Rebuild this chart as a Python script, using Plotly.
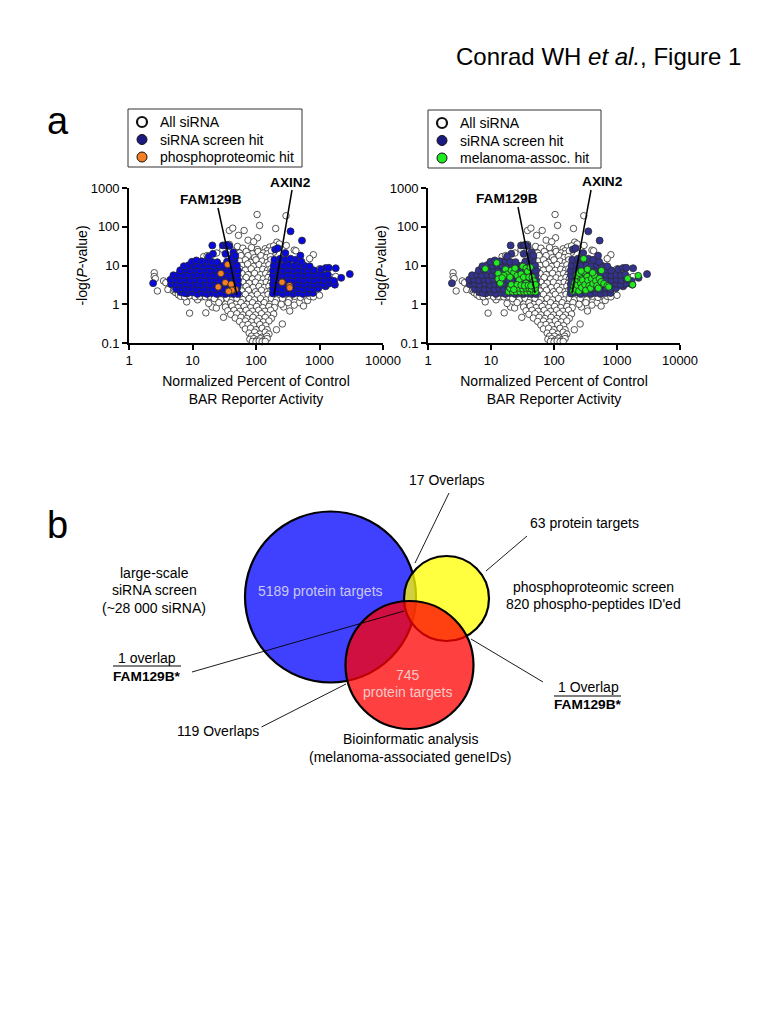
import plotly.graph_objects as go

FONT = "Liberation Sans, Arial, sans-serif"

all_sirna = [
(104,207),(297,192),(114,108),(204,90),(38,80),(43,92),(65,80),(53,60),(75,45),(106,52),(92,41),(213,40),
(2.5,6.5),(2.5,5.2),(2.8,2.2),(2.6,4.6),(3.5,4),(3.8,3.6),(4.3,2.7),(4.1,2.4),(5,2.2),(5.4,2),(5.2,2.4),(6,1.75),
(7,1.65),(8.1,1.15),(9,.59),(16.2,.6),(30.8,.46),(20.4,.85),(23.7,.8),(14,1.55),(12,1.3),(210,.22),(260,.31),(340,.67),(272,.85),
(600,1.6),(650,1.25),(480,1.1),(400,.95),(560,.9),(15,17),(17,18),(24,21),(30,26),(38,35),(46,25),(50,22),(51,31),
(190,22),(233,36),(300,33),(400,25),(425,24),(800,19),(700,15),(1000,8.2),(1300,7),(1500,5),(1800,5.2),(1200,3),(1000,2.8),(900,2),(1000,1.7),
(62,28),(85,29),(105,26),(140,27),(165,30),(190,32),(150,24),(55,21),(70,23),(88,20),(108,23),(130,21),(152,20),(175,24),
(60,16),(75,18),(95,16),(120,18),(145,16),(168,17),(58,18),(56,13),(68,14),(82,12),(100,14),(125,13),(150,12),(172,14),
(60,10),(74,11),(92,9.5),(112,10.5),(135,9.6),(160,10.4),(56,8),(68,7.6),(84,8.2),(105,7.5),(128,8),(152,7.6),(172,8.2),
(60,6.2),(75,5.8),(95,6.3),(118,5.8),(142,6.2),(165,5.7),(56,4.6),(70,4.9),(88,4.5),(108,4.8),(130,4.5),(155,4.9),(175,4.5),
(62,3.7),(78,3.5),(98,3.7),(120,3.5),(145,3.7),(170,3.5),(56,2.8),(70,2.9),(90,2.7),(112,2.9),(135,2.7),(160,2.9),
(60,2.2),(76,2.3),(98,2.1),(122,2.3),(150,2.1),(172,2.3),(55,1.7),(68,1.8),(85,1.65),(105,1.8),(130,1.65),(155,1.8),(180,1.7),
(6.5,1.6),(7.5,1.55),(9,1.65),(11,1.55),(13,1.6),(16,1.55),(19,1.6),(23,1.5),(28,1.6),(34,1.55),(41,1.6),(48,1.55),
(190,1.6),(230,1.55),(280,1.6),(340,1.5),(410,1.6),(500,1.5),(700,1.6),(800,1.55),
(22,1.4),(28,1.3),(35,1.4),(42,1.3),(50,1.4),(62,1.32),(78,1.4),(95,1.3),(118,1.4),(145,1.3),(175,1.4),(210,1.3),(260,1.4),(330,1.3),
(18,1.05),(26,1.1),(33,1),(40,1.1),(48,1),(58,1.1),(72,1),(88,1.1),(108,1),(135,1.1),(165,1),(200,1.1),(250,1),(320,1.1),
(33,.85),(42,.9),(52,.82),(65,.88),(82,.82),(102,.88),(128,.82),(160,.88),(195,.82),(36,.68),(45,.7),(56,.66),(70,.7),(88,.66),(110,.7),(138,.66),(170,.7),
(40,.55),(50,.57),(62,.53),(78,.57),(98,.53),(122,.57),(152,.53),(190,.56),(47,.44),(58,.46),(72,.43),(90,.46),(112,.43),(140,.46),(175,.43),
(55,.36),(68,.37),(85,.35),(105,.37),(130,.35),(160,.37),(62,.29),(75,.3),(92,.28),(115,.3),(142,.28),(68,.23),(82,.24),(100,.22),(125,.24),(150,.22),
(78,.18),(95,.19),(115,.17),(140,.19),(160,.17),(85,.15),(102,.15),(122,.14),(148,.15),(80,.125),(92,.13),(105,.12),(118,.13),(135,.12),(150,.13),
(88,.11),(100,.108),(112,.112),(125,.108),(140,.11),
]

screen_hits = [
(8.2,1.9),(10,2),(12,1.85),(14.5,1.95),(17,1.85),(20,1.95),(24,1.85),(28,1.95),(33,1.85),(38,1.95),(44,1.85),(50,1.9),(52,1.85),(6.5,2.05),(7.4,1.95),
(5.5,2.5),(6.6,2.6),(8,2.45),(9.5,2.55),(11.3,2.45),(13.5,2.6),(16,2.45),(19,2.55),(22.5,2.45),(27,2.6),(32,2.45),(37,2.55),(43,2.45),(50,2.55),
(4.6,3.3),(5.5,3.4),(6.6,3.2),(8,3.4),(9.6,3.2),(11.5,3.35),(13.8,3.2),(16.5,3.4),(19.5,3.2),(23.5,3.35),(28,3.2),(33.5,3.4),(40,3.2),(47,3.35),(52,3.2),
(4.5,4.3),(5.3,4.4),(6.4,4.2),(7.7,4.4),(9.2,4.2),(11,4.4),(13.2,4.2),(15.8,4.4),(18.9,4.2),(22.6,4.4),(27,4.2),(32.5,4.4),(39,4.2),(46,4.4),(52,4.2),
(5,5.6),(6,5.8),(7.2,5.6),(8.7,5.8),(10.4,5.6),(12.4,5.8),(14.9,5.6),(17.8,5.8),(21.3,5.6),(25.5,5.8),(30.5,5.6),(36.5,5.8),(43.6,5.6),(51,5.8),
(6.4,7.5),(7.7,7.8),(9.2,7.5),(11,7.8),(13.2,7.5),(15.8,7.8),(18.9,7.5),(22.6,7.8),(27,7.5),(32.3,7.8),(38.7,7.5),(46,7.8),(52,7.5),
(7.3,9.6),(8.7,10.2),(10.5,9.8),(12.5,10.3),(15,9.8),(18,10.2),(21.5,9.8),(25.8,10.2),(31,9.8),(37,10.2),(44,9.8),(50,10.2),
(9.8,12.5),(11.5,13.5),(14,12.8),(17,13.2),(20,12.5),(24.5,12.2),(35,12.6),(42,13),(46,14),
(20.5,33),(30,33),(33,33),(38,32),(35,34),(21,20),(18,17),(33,20),(44,22),(42,16),(47,18),(2.4,3.5),
(185,1.9),(220,2),(265,1.85),(320,1.95),(385,1.85),(460,1.95),(550,1.85),(660,1.95),(790,1.95),
(185,2.5),(220,2.6),(265,2.45),(320,2.6),(385,2.45),(460,2.6),(550,2.45),(660,2.6),(800,2.45),(960,2.6),(1250,2.9),
(185,3.3),(222,3.4),(268,3.2),(322,3.4),(388,3.2),(465,3.4),(560,3.2),(670,3.4),(810,3.2),(970,3.4),(1150,3.2),(1400,3.4),(1750,3.2),
(188,4.3),(225,4.4),(270,4.2),(325,4.4),(390,4.2),(470,4.4),(565,4.2),(680,4.4),(820,4.2),(990,4.4),(1180,4.2),(1420,4.4),(1700,4),(2200,4.8),
(185,5.6),(222,5.8),(268,5.6),(322,5.8),(388,5.6),(465,5.8),(560,5.6),(670,5.8),(810,5.6),(970,5.8),(1150,5.6),(1350,5.8),
(185,7.5),(222,7.8),(268,7.5),(322,7.8),(388,7.5),(465,7.8),(560,7.5),(670,7.8),(810,7.5),(1050,8),(1250,8.6),(1400,8.7),(1800,8.5),
(190,10),(230,10.3),(275,9.8),(330,10.3),(400,9.8),(480,10.3),(580,9.8),(700,9.6),
(195,14),(240,15),(290,14),(350,15),(420,14),(520,12.5),(350,76),(530,44),(200,26),(220,28),(290,21),(500,18),(3000,6),
]

phospho_hits = [(35.7,10.6),(28,6.2),(32.8,3.6),(25.4,2.8),(40.7,3.3),(47.3,2.4),(41.7,2.3),(37,2.15),(257,3.7),(337,3.0),(340,2.65)]

melanoma_hits = [
(8.1,8.2),(12.3,11.7),(13,6.2),(13,4.5),(14,3.5),(17,8),(18,6),(16,5.5),(15,4.8),(21,7.5),(23,6.5),(20,5),(24,8.5),(26,5.5),(30,6),(28,4.2),
(32,9.5),(36,8.5),(38,7),(42,9),(33,5),(40,5),(45,5),(36,3.5),(48,4),(44,3.2),
(19,2.1),(22,2.1),(25,2.1),(29,2.1),(33,2.1),(37,2.1),(42,2.1),(47,2.1),(51,2.1),(20,2.6),(24,2.7),(28,2.6),(32,2.5),(36,2.6),(40,2.6),(44,2.5),(50,2.6),
(21,3.2),(26,3.2),(30,3.1),(34,3),(39,3.1),(43,3),(51,3.2),(23,2.4),
(296,15),(200,2.2),(208,2.9),(215,3.6),(225,2.4),(235,3.1),(240,4.3),(248,2.2),(258,5),(265,3.5),(275,2.7),(285,4.2),(295,6.8),(310,3.2),(320,2.3),
(335,5.2),(345,4.1),(360,3),(380,2.6),(395,4.6),(415,3.4),(440,5.5),(460,4),(480,3),(505,2.6),(525,4.6),(560,3.8),(620,3.4),(700,3),(740,2.8),
(1480,4.6),(2170,5.5),(1770,3.2),(230,5.5),(250,6.3),(270,7.2),(340,8),(410,6.5),(565,7.4),
]

x_ticks = [1, 10, 100, 1000, 10000]
y_ticks = [0.1, 1, 10, 100, 1000]
y_tick_labels = ["0.1", "1", "10", "100", "1000"]
x_title = "Normalized Percent of Control<br>BAR Reporter Activity"
y_title = "-log(<i>P</i>-value)"

def xs(p): return [a for a, _ in p]
def ys(p): return [b for _, b in p]

fig = go.Figure()

def marker(fill, size=6.5, lw=0.8, edge="#2a2a2a"):
    return dict(size=size, color=fill, line=dict(color=edge, width=lw))

def add_panel(xa, ya, hit_color, layer, layer_color):
    for pts, col, name, sz in ((all_sirna, "white", "All siRNA", 6.5), (screen_hits, hit_color, "siRNA screen hit", 7), (layer, layer_color, "overlay hit", 6.5)):
        fig.add_trace(go.Scatter(x=xs(pts), y=ys(pts), mode="markers", xaxis=xa, yaxis=ya, name=name,
                                 marker=marker(col, sz), showlegend=False, cliponaxis=False, hoverinfo="x+y"))

add_panel("x", "y", "#0808e0", phospho_hits, "#f58024")
add_panel("x2", "y2", "#33338f", melanoma_hits, "#22ea22")

def axis_common():
    return dict(type="log", automargin=False, showgrid=False, zeroline=False, showline=True, linecolor="black", linewidth=1.6,
                ticks="outside", ticklen=5, tickwidth=1.6, tickcolor="black",
                tickfont=dict(family=FONT, size=13, color="black"), fixedrange=True)

W, H = 784, 1015
def dom(a, b, s): return [a / s, b / s]

fig.update_layout(
    width=W, height=H, margin=dict(l=0, r=0, t=0, b=0), paper_bgcolor="white", plot_bgcolor="rgba(0,0,0,0)",
    font=dict(family=FONT, size=14, color="black"), showlegend=False, hovermode="closest",
    xaxis=dict(axis_common(), domain=dom(129, 383, W), range=[0, 4], tickvals=x_ticks, ticktext=[str(v) for v in x_ticks],
               title=dict(text=x_title, standoff=9, font=dict(size=14)), anchor="y"),
    yaxis=dict(axis_common(), domain=[1 - 343 / H, 1 - 188 / H], range=[-1, 3], tickvals=y_ticks, ticktext=y_tick_labels,
               title=dict(text=y_title, standoff=0, font=dict(size=14)), anchor="x"),
    xaxis2=dict(axis_common(), domain=dom(428, 680, W), range=[0, 4], tickvals=x_ticks, ticktext=[str(v) for v in x_ticks],
                title=dict(text=x_title, standoff=9, font=dict(size=14)), anchor="y2"),
    yaxis2=dict(axis_common(), domain=[1 - 343 / H, 1 - 188 / H], range=[-1, 3], tickvals=y_ticks, ticktext=y_tick_labels,
                title=dict(text=y_title, standoff=0, font=dict(size=14)), anchor="x2"),
    xaxis3=dict(domain=[0, 1], range=[0, W], visible=False, automargin=False, fixedrange=True, anchor="y3"),
    yaxis3=dict(domain=[0, 1], range=[H, 0], visible=False, automargin=False, fixedrange=True, anchor="x3"),
)

# page-coordinate overlay
shapes = []
def seg(x0, y0, x1, y1, w=1.0, color="black"):
    shapes.append(dict(type="line", xref="x3", yref="y3", x0=x0, y0=y0, x1=x1, y1=y1, line=dict(color=color, width=w), layer="above"))

venn_centers = [(330.5, 597), (446.5, 598.5), (409.5, 665)]
venn_radii = [85.5, 42.5, 64]
venn_fills = ["rgba(0,0,255,0.75)", "rgba(255,255,0,0.75)", "rgba(255,0,0,0.75)"]
for (cx, cy), r, f in zip(venn_centers, venn_radii, venn_fills):
    shapes.append(dict(type="circle", xref="x3", yref="y3", x0=cx - r, x1=cx + r, y0=cy - r, y1=cy + r,
                       fillcolor=f, line=dict(color="black", width=2.2), layer="above"))

for box in ((128, 109, 302, 167), (428, 110, 601, 168)):
    shapes.append(dict(type="rect", xref="x3", yref="y3", x0=box[0], y0=box[1], x1=box[2], y1=box[3],
                       line=dict(color="#333333", width=1), fillcolor="white", layer="below"))

# label leaders
seg(218, 208, 237, 295, 1.5); seg(292, 190, 274, 295, 1.5)
seg(518, 207, 535, 293, 1.5); seg(591, 190, 572, 293, 1.5)
# venn leaders
seg(449, 493, 415, 563, 0.9); seg(527, 536, 486, 571, 0.9)
seg(192, 672, 404, 611, 0.9); seg(543, 682, 471, 639, 0.9); seg(261.5, 727, 346, 684, 0.9)
seg(113, 666, 181, 666, 1.1); seg(554, 696, 621, 696, 1.1)
fig.update_layout(shapes=shapes)

anns = []
def txt(x, y, s, size=14, color="black", anchor="center", bold=False):
    anns.append(dict(xref="x3", yref="y3", x=x, y=y, text=f"<b>{s}</b>" if bold else s, showarrow=False,
                     font=dict(family=FONT, size=size, color=color), xanchor=anchor, yanchor="middle", align=anchor))

txt(743, 56, "Conrad WH <i>et al.</i>, Figure 1", 24, anchor="right")
txt(58, 121, "a", 38); txt(57, 525, "b", 38)
key_labels = [("All siRNA", "siRNA screen hit", "phosphoproteomic hit"), ("All siRNA", "siRNA screen hit", "melanoma-assoc. hit")]
for x0, y0, labels in ((158, 122, key_labels[0]), (458, 123, key_labels[1])):
    for i, s in enumerate(labels):
        txt(x0, y0 + i * 17.5, s, 14, anchor="left")
txt(211, 199, "FAM129B", 13.7, bold=True); txt(290, 182, "AXIN2", 13.7, bold=True)
txt(507, 198, "FAM129B", 13.7, bold=True); txt(602, 181, "AXIN2", 13.7, bold=True)
txt(446, 480, "17 Overlaps"); txt(584, 523, "63 protein targets")
txt(154, 573, "large-scale"); txt(154, 590, "siRNA screen"); txt(154, 608, "(~28 000 siRNA)")
txt(593, 587, "phosphoproteomic screen"); txt(593, 604, "820 phospho-peptides ID'ed")
txt(320, 591, "5189 protein targets", color="#c8c8ee")
txt(408, 675, "745", color="#f5c8c8"); txt(408, 692, "protein targets", color="#f5c8c8")
txt(147, 658, "1 overlap"); txt(147, 676, "FAM129B*", 13.7, bold=True)
txt(588, 687, "1 Overlap"); txt(588, 704, "FAM129B*", 13.7, bold=True)
txt(218, 731, "119 Overlaps")
txt(410, 739, "Bioinformatic analysis"); txt(410, 757, "(melanoma-associated geneIDs)")
fig.update_layout(annotations=anns)

# legend keys on the page overlay
key_x = [142, 142, 142]
key_y = [122, 139.5, 157]
key_fills = [["white", "#1a1a80", "#f58024"], ["white", "#1a1a80", "#22ea22"]]
for dx, dy, fills in ((0, 0, key_fills[0]), (300, 1, key_fills[1])):
    fig.add_trace(go.Scatter(x=[v + dx for v in key_x], y=[v + dy for v in key_y], mode="markers", xaxis="x3", yaxis="y3",
                             marker=dict(size=10, color=fills, line=dict(color="#111111", width=[2.2, 1, 1])),
                             showlegend=False, hoverinfo="skip"))

fig.write_html("out.html", config=dict(displayModeBar=False), post_script="document.body.style.margin='0';")
